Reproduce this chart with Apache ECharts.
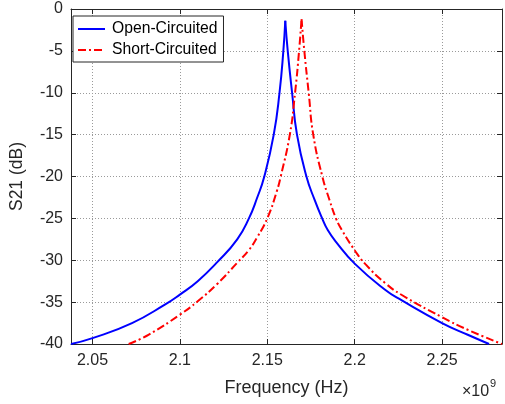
<!DOCTYPE html>
<html>
<head>
<meta charset="utf-8">
<script src="https://cdn.jsdelivr.net/npm/echarts@6/dist/echarts.min.js"></script>
<style>
  html, body { margin: 0; padding: 0; background: #fff; }
  #chart { width: 505px; height: 404px; }
</style>
</head>
<body>
<div id="chart"></div>
<script>
// frequency in units of 1e9 Hz, S21 in dB
const freqTicks = [2.05, 2.1, 2.15, 2.2, 2.25];

const openFreq = [2.0377, 2.05, 2.0726, 2.0914, 2.1, 2.1102, 2.1215, 2.1328, 2.1395,
  2.1441, 2.1483, 2.1537, 2.157, 2.1592, 2.1603,
  2.1617, 2.1642, 2.167, 2.1724, 2.1771, 2.1814, 2.1846, 2.1893,
  2.2, 2.2176, 2.227, 2.25, 2.2647, 2.2769];
const openS21 = [-40, -39.3, -37.5, -35.3, -34.1, -32.5, -30.2, -27.5, -25.0,
  -22.6, -20.0, -15.0, -10.0, -5.0, -1.4,
  -5.0, -10.0, -15.0, -20.0, -22.8, -25.0, -26.4, -27.8,
  -30.4, -33.55, -34.8, -37.5, -38.9, -40];

const shortFreq = [2.0707, 2.082, 2.1, 2.1102, 2.1215, 2.1328, 2.1394, 2.1441, 2.15, 2.1554,
  2.1577, 2.1629, 2.1659, 2.1682, 2.1696,
  2.1712, 2.1737, 2.1763, 2.1815, 2.1856, 2.1893, 2.1927, 2.2,
  2.2063, 2.2176, 2.227, 2.25, 2.2647, 2.2843];
const shortS21 = [-40, -38.9, -36.5, -34.9, -32.8, -30.3, -28.8, -27.3, -25.0, -21.8,
  -20.0, -15.0, -10.0, -5.0, -1.2,
  -5.0, -10.0, -15.0, -20.0, -22.8, -25.0, -26.4, -28.8,
  -30.5, -32.75, -34.15, -36.8, -38.3, -40];

const xMin = 2.0377, xMax = 2.2843;
const font = '"Liberation Sans", Arial, sans-serif';
const ink = '#262626';

const chart = echarts.init(document.getElementById('chart'), null, { renderer: 'canvas' });

// split a curve at its peak so each flank can be smoothed while the tip stays sharp
function flanks(xs, ys) {
  const pts = xs.map((x, i) => [x, ys[i]]);
  let k = 0;
  ys.forEach((y, i) => { if (y > ys[k]) k = i; });
  return [pts.slice(0, k + 1), pts.slice(k)];
}

const openParts = flanks(openFreq, openS21);
const shortParts = flanks(shortFreq, shortS21);

const boxAxis = {
  axisLine: { show: true, onZero: false, lineStyle: { color: ink, width: 1 } },
  axisTick: { show: true, inside: true, length: 5, lineStyle: { color: ink } }
};
const gridLine = { show: true, lineStyle: { color: '#9a9a9a', type: [1, 2], width: 1 } };

function curve(name, data, color, dash) {
  return {
    name: name,
    type: 'line',
    data: data,
    showSymbol: false,
    symbol: 'none',
    smooth: 0.5,
    lineStyle: { color: color, width: 2, type: dash },
    itemStyle: { color: color }
  };
}

const options = {
  animation: false,
  grid: { left: 65, top: 9, right: 3, bottom: 60, containLabel: false },
  legend: {
    orient: 'vertical',
    left: 73,
    top: 16,
    padding: [5, 6, 4, 4],
    itemGap: 5,
    itemWidth: 27,
    itemHeight: 14,
    backgroundColor: '#fff',
    borderColor: ink,
    borderWidth: 1,
    itemStyle: { opacity: 0 },
    textStyle: { fontFamily: font, fontSize: 15.7, color: '#000', lineHeight: 16, padding: [0, 0, 0, 2] },
    data: ['Open-Circuited', 'Short-Circuited']
  },
  xAxis: [
    {
      type: 'value',
      min: xMin,
      max: xMax,
      position: 'bottom',
      ...boxAxis,
      axisTick: { ...boxAxis.axisTick, customValues: freqTicks },
      axisLabel: {
        customValues: freqTicks,
        formatter: v => String(v),
        fontFamily: font, fontSize: 16, color: ink, margin: 9
      },
      splitLine: gridLine,
      name: 'Frequency (Hz)',
      nameLocation: 'middle',
      nameGap: 35,
      nameTextStyle: { fontFamily: font, fontSize: 18, color: ink }
    },
    {
      type: 'value',
      min: xMin,
      max: xMax,
      position: 'top',
      ...boxAxis,
      axisTick: { ...boxAxis.axisTick, customValues: freqTicks },
      axisLabel: { show: false, customValues: freqTicks },
      splitLine: { show: false }
    }
  ],
  yAxis: [
    {
      type: 'value',
      min: -40,
      max: 0,
      interval: 5,
      position: 'left',
      ...boxAxis,
      axisLabel: { fontFamily: font, fontSize: 16, color: ink, margin: 8 },
      splitLine: gridLine,
      name: 'S21 (dB)',
      nameLocation: 'middle',
      nameGap: 45,
      nameTextStyle: { fontFamily: font, fontSize: 17.5, color: ink }
    },
    {
      type: 'value',
      min: -40,
      max: 0,
      interval: 5,
      position: 'right',
      ...boxAxis,
      axisLabel: { show: false },
      splitLine: { show: false }
    }
  ],
  graphic: [
    {
      type: 'text', left: 462, top: 384,
      style: { text: '×10', font: '16px "Liberation Sans", Arial, sans-serif', fill: ink }
    },
    {
      type: 'text', left: 490, top: 378,
      style: { text: '9', font: '11px "Liberation Sans", Arial, sans-serif', fill: ink }
    }
  ],
  series: [
    curve('Open-Circuited', openParts[0], '#0000ff', 'solid'),
    curve('Open-Circuited', openParts[1], '#0000ff', 'solid'),
    curve('Short-Circuited', shortParts[0], '#ff0000', [8, 3, 2, 3]),
    curve('Short-Circuited', shortParts[1], '#ff0000', [8, 3, 2, 3])
  ]
};

chart.setOption(options, true);
</script>
</body>
</html>
